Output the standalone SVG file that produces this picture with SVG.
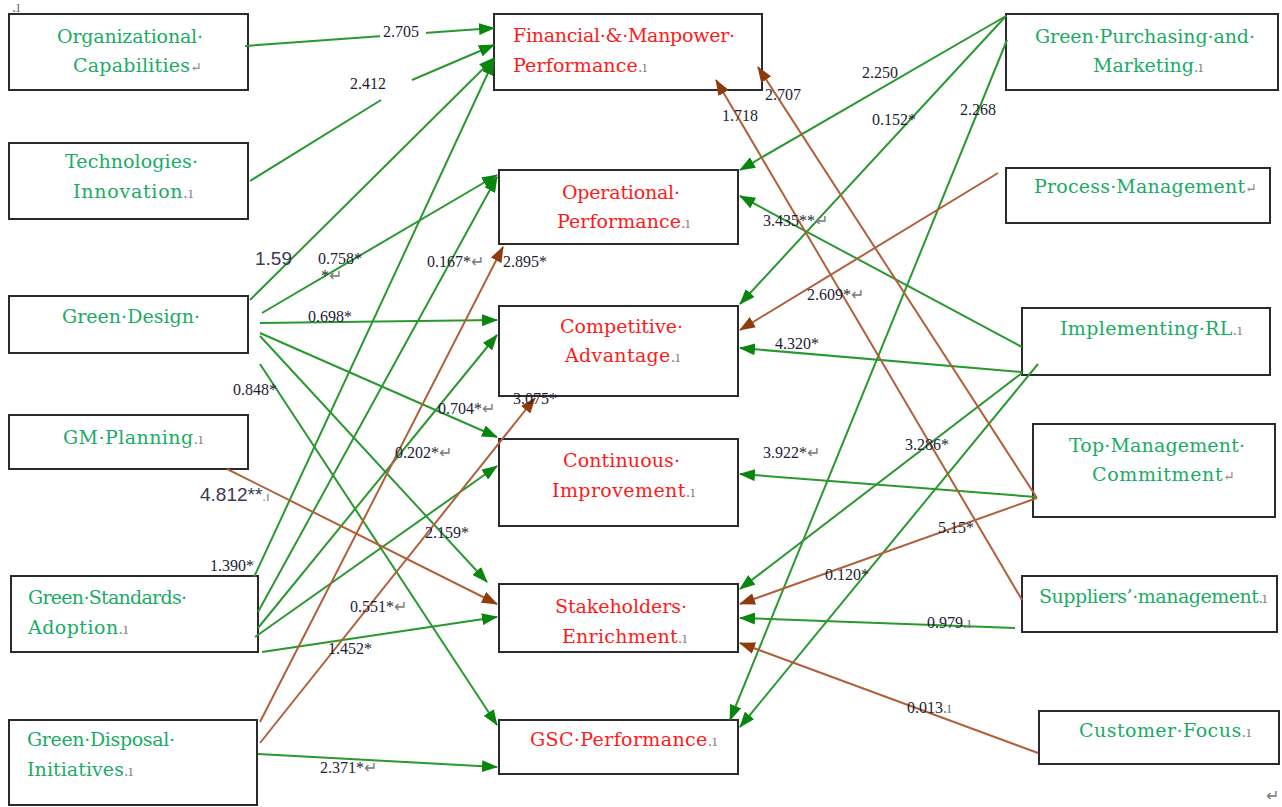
<svg xmlns="http://www.w3.org/2000/svg" width="1282" height="807" viewBox="0 0 1282 807">
<style>
.box{fill:#fff;stroke:#2b2b2b;stroke-width:2}
.tg{font-family:"DejaVu Serif",serif;font-size:19px;fill:#1aab64}
.tr{font-family:"DejaVu Serif",serif;font-size:19px;fill:#ff1a1a}
.mk{fill:#8a8a8a;font-size:14px}
.g{stroke:#2a982f;stroke-width:2;fill:none;marker-end:url(#ag)}
.gn{stroke:#2a982f;stroke-width:2;fill:none}
.b{stroke:#b0603a;stroke-width:2;fill:none;marker-end:url(#ab)}
.lb{font-family:"Liberation Serif",serif;font-size:16px;fill:#1d1d33}
.ls{font-family:"Liberation Sans",sans-serif;font-size:19px;fill:#3a3a50}
.lm{fill:#7a7a7a}
</style>
<defs>
<marker id="ag" viewBox="0 0 16 12" markerWidth="16" markerHeight="12" refX="15" refY="6" orient="auto" markerUnits="userSpaceOnUse"><path d="M0,0 L16,6 L0,12 z" fill="#0a860f"/></marker>
<marker id="ab" viewBox="0 0 16 12" markerWidth="16" markerHeight="12" refX="15" refY="6" orient="auto" markerUnits="userSpaceOnUse"><path d="M0,0 L16,6 L0,12 z" fill="#8e3b0e"/></marker>
</defs>
<rect width="1282" height="807" fill="#fff"/>
<text x="12" y="12" class="lb lm" font-size="9">.ı</text>
<text x="1266" y="801" class="lb lm" font-size="10">↵</text>

<g id="n-org"><rect class="box" x="9" y="14" width="239" height="76"/>
<text class="tg" x="57" y="43" textLength="146">Organizational·</text>
<text class="tg" x="73" y="72" textLength="129">Capabilities<tspan class="mk">↵</tspan></text></g>
<g id="n-tech"><rect class="box" x="9" y="143" width="239" height="76"/>
<text class="tg" x="65" y="168" textLength="133">Technologies·</text>
<text class="tg" x="73" y="198" textLength="120">Innovation<tspan class="mk">.ı</tspan></text></g>
<g id="n-gd"><rect class="box" x="9" y="296" width="239" height="57"/>
<text class="tg" x="62" y="323" textLength="138">Green·Design·</text></g>
<g id="n-gm"><rect class="box" x="9" y="415" width="239" height="54"/>
<text class="tg" x="63" y="444" textLength="140">GM·Planning<tspan class="mk">.ı</tspan></text></g>
<g id="n-gs"><rect class="box" x="11" y="576" width="247" height="76"/>
<text class="tg" x="28" y="604" textLength="159">Green·Standards·</text>
<text class="tg" x="28" y="634" textLength="100">Adoption<tspan class="mk">.ı</tspan></text></g>
<g id="n-gdi"><rect class="box" x="9" y="720" width="248" height="85"/>
<text class="tg" x="27" y="746" textLength="148">Green·Disposal·</text>
<text class="tg" x="27" y="776" textLength="106">Initiatives<tspan class="mk">.ı</tspan></text></g>

<g id="n-fin"><rect class="box" x="494" y="14" width="268" height="76"/>
<text class="tr" x="513" y="42" textLength="222">Financial·&amp;·Manpower·</text>
<text class="tr" x="513" y="72" textLength="134">Performance<tspan class="mk">.ı</tspan></text></g>
<g id="n-op"><rect class="box" x="499" y="170" width="239" height="74"/>
<text class="tr" x="562" y="199" textLength="118">Operational·</text>
<text class="tr" x="557" y="228" textLength="133">Performance<tspan class="mk">.ı</tspan></text></g>
<g id="n-ca"><rect class="box" x="499" y="306" width="239" height="90"/>
<text class="tr" x="560" y="333" textLength="123">Competitive·</text>
<text class="tr" x="565" y="362" textLength="115">Advantage<tspan class="mk">.ı</tspan></text></g>
<g id="n-ci"><rect class="box" x="499" y="439" width="239" height="87"/>
<text class="tr" x="563" y="467" textLength="117">Continuous·</text>
<text class="tr" x="552" y="497" textLength="143">Improvement<tspan class="mk">.ı</tspan></text></g>
<g id="n-se"><rect class="box" x="499" y="584" width="239" height="68"/>
<text class="tr" x="555" y="613" textLength="132">Stakeholders·</text>
<text class="tr" x="562" y="643" textLength="125">Enrichment<tspan class="mk">.ı</tspan></text></g>
<g id="n-gsc"><rect class="box" x="499" y="720" width="239" height="54"/>
<text class="tr" x="530" y="746" textLength="187">GSC·Performance<tspan class="mk">.ı</tspan></text></g>

<g id="n-gp"><rect class="box" x="1006" y="14" width="272" height="76"/>
<text class="tg" x="1035" y="43" textLength="220">Green·Purchasing·and·</text>
<text class="tg" x="1093" y="72" textLength="110">Marketing<tspan class="mk">.ı</tspan></text></g>
<g id="n-pm"><rect class="box" x="1006" y="168" width="264" height="55"/>
<text class="tg" x="1034" y="193" textLength="223">Process·Management<tspan class="mk">↵</tspan></text></g>
<g id="n-irl"><rect class="box" x="1022" y="308" width="248" height="67"/>
<text class="tg" x="1060" y="335" textLength="182">Implementing·RL<tspan class="mk">.ı</tspan></text></g>
<g id="n-tm"><rect class="box" x="1033" y="424" width="242" height="93"/>
<text class="tg" x="1069" y="452" textLength="176">Top·Management·</text>
<text class="tg" x="1092" y="481" textLength="143">Commitment<tspan class="mk">↵</tspan></text></g>
<g id="n-sup"><rect class="box" x="1022" y="576" width="255" height="56"/>
<text class="tg" x="1039" y="603" textLength="228">Suppliers’·management<tspan class="mk">.ı</tspan></text></g>
<g id="n-cf"><rect class="box" x="1039" y="711" width="240" height="53"/>
<text class="tg" x="1079" y="737" textLength="172">Customer·Focus<tspan class="mk">.ı</tspan></text></g>

<g id="connectors">
<line class="g" x1="245" y1="46" x2="494" y2="28"/>
<line class="gn" x1="250" y1="181" x2="381" y2="100"/>
<line class="g" x1="412" y1="80" x2="494" y2="45"/>
<line class="g" x1="250" y1="300" x2="494" y2="58"/>
<line class="g" x1="254" y1="577" x2="494" y2="60"/>
<line class="g" x1="262" y1="313" x2="497" y2="175"/>
<line class="g" x1="258" y1="612" x2="497" y2="177"/>
<line class="g" x1="260" y1="323" x2="497" y2="320"/>
<line class="g" x1="258" y1="628" x2="497" y2="335"/>
<line class="g" x1="255" y1="637" x2="497" y2="466"/>
<line class="g" x1="260" y1="333" x2="497" y2="437"/>
<line class="g" x1="260" y1="336" x2="487" y2="582"/>
<line class="g" x1="262" y1="652" x2="497" y2="617"/>
<line class="g" x1="260" y1="364" x2="497" y2="725"/>
<line class="g" x1="258" y1="754" x2="497" y2="767"/>
<line class="g" x1="1006" y1="16" x2="740" y2="170"/>
<line class="g" x1="1006" y1="16" x2="740" y2="304"/>
<line class="g" x1="1007" y1="40" x2="730" y2="720"/>
<line class="g" x1="1022" y1="347" x2="740" y2="196"/>
<line class="g" x1="1022" y1="372" x2="740" y2="348"/>
<line class="g" x1="1022" y1="373" x2="740" y2="589"/>
<line class="g" x1="1038" y1="364" x2="740" y2="727"/>
<line class="g" x1="1036" y1="497" x2="740" y2="474"/>
<line class="g" x1="1015" y1="628" x2="740" y2="618"/>
<line class="b" x1="227" y1="469" x2="497" y2="604"/>
<line class="b" x1="260" y1="722" x2="503" y2="247"/>
<line class="b" x1="260" y1="743" x2="535" y2="398"/>
<line class="b" x1="998" y1="173" x2="740" y2="330"/>
<line class="b" x1="1037" y1="498" x2="758" y2="67"/>
<line class="b" x1="1037" y1="498" x2="740" y2="604"/>
<line class="b" x1="1022" y1="600" x2="716" y2="80"/>
<line class="b" x1="1038" y1="753" x2="740" y2="643"/>

<rect x="380" y="22" width="46" height="19" fill="#fff"/>
<text class="lb" x="383" y="37">2.705</text>
<text class="lb" x="350" y="89">2.412</text>
<text class="ls" x="255" y="265">1.59</text>
<text class="lb" x="318" y="264">0.758*</text>
<text class="lb" x="321" y="281" font-size="12">*<tspan class="lm">↵</tspan></text>
<text class="lb" x="308" y="322">0.698*</text>
<text class="lb" x="233" y="395">0.848*</text>
<text class="lb" x="427" y="267">0.167*<tspan class="lm">↵</tspan></text>
<text class="lb" x="503" y="267">2.895*</text>
<text class="lb" x="513" y="404">3.075*</text>
<text class="lb" x="438" y="414">0.704*<tspan class="lm">↵</tspan></text>
<text class="lb" x="395" y="458">0.202*<tspan class="lm">↵</tspan></text>
<text class="lb" x="425" y="538">2.159*</text>
<text class="ls" x="200" y="501">4.812**<tspan class="lm" font-size="13">.ı</tspan></text>
<text class="lb" x="210" y="571">1.390*</text>
<text class="lb" x="350" y="612">0.551*<tspan class="lm">↵</tspan></text>
<text class="lb" x="328" y="654">1.452*</text>
<text class="lb" x="320" y="773">2.371*<tspan class="lm">↵</tspan></text>
<text class="lb" x="862" y="78">2.250</text>
<text class="lb" x="872" y="125">0.152*</text>
<text class="lb" x="960" y="115">2.268</text>
<text class="lb" x="765" y="100">2.707</text>
<text class="lb" x="722" y="121">1.718</text>
<text class="lb" x="763" y="226">3.435**<tspan class="lm">↵</tspan></text>
<text class="lb" x="807" y="300">2.609*<tspan class="lm">↵</tspan></text>
<text class="lb" x="775" y="349">4.320*</text>
<text class="lb" x="763" y="458">3.922*<tspan class="lm">↵</tspan></text>
<text class="lb" x="905" y="450">3.286*</text>
<text class="lb" x="938" y="533">5.15*</text>
<text class="lb" x="825" y="580">0.120*</text>
<text class="lb" x="927" y="628">0.979<tspan class="lm">.ı</tspan></text>
<text class="lb" x="907" y="713">0.013<tspan class="lm">.ı</tspan></text>
</g>
</svg>
